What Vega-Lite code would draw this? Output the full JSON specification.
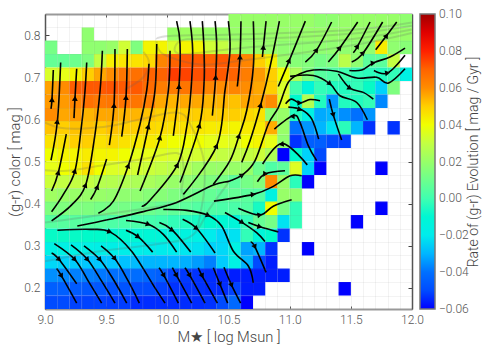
{"$schema":"https://vega.github.io/schema/vega-lite/v6.json","width":367,"height":295,"autosize":"none","padding":{"left":45,"top":14,"right":80,"bottom":42},"background":"white",
"config":{"view":{"stroke":null},"axis":{"labelFont":"Roboto","titleFont":"Roboto","labelFontWeight":300,"titleFontWeight":300,"labelColor":"#555","titleColor":"#444","labelFontSize":12,"titleFontSize":14.7,"grid":false}},
"datasets":{
"cells":[
{"m":10.55,"c":0.834,"v":0.02},{"m":10.65,"c":0.834,"v":0.02},{"m":10.75,"c":0.834,"v":0.02},{"m":10.85,"c":0.834,"v":0.02},{"m":10.95,"c":0.834,"v":0.02},{"m":11.05,"c":0.834,"v":0.02},{"m":11.15,"c":0.834,"v":0.02},{"m":11.25,"c":0.834,"v":0.018},{"m":11.35,"c":0.834,"v":0.018},{"m":11.45,"c":0.834,"v":0.02},{"m":11.55,"c":0.834,"v":0.02},{"m":11.65,"c":0.834,"v":0.02},{"m":11.75,"c":0.834,"v":0.02},{"m":11.85,"c":0.834,"v":0.02},{"m":11.95,"c":0.834,"v":0.018},
{"m":9.35,"c":0.802,"v":0.018},{"m":10.05,"c":0.802,"v":0.02},{"m":10.15,"c":0.802,"v":0.022},{"m":10.25,"c":0.802,"v":0.022},{"m":10.35,"c":0.802,"v":0.02},{"m":10.45,"c":0.802,"v":0.02},{"m":10.55,"c":0.802,"v":0.02},{"m":10.65,"c":0.802,"v":0.02},{"m":10.75,"c":0.802,"v":0.02},{"m":10.85,"c":0.802,"v":0.02},{"m":10.95,"c":0.802,"v":0.02},{"m":11.05,"c":0.802,"v":0.02},{"m":11.15,"c":0.802,"v":0.02},{"m":11.25,"c":0.802,"v":0.02},{"m":11.35,"c":0.802,"v":0.02},{"m":11.45,"c":0.802,"v":0.02},{"m":11.55,"c":0.802,"v":0.02},{"m":11.65,"c":0.802,"v":0.02},{"m":11.75,"c":0.802,"v":0.02},{"m":11.85,"c":0.802,"v":0.02},{"m":11.95,"c":0.802,"v":0.02},
{"m":9.05,"c":0.771,"v":0.012},{"m":9.35,"c":0.771,"v":0.018},{"m":9.45,"c":0.771,"v":0.018},{"m":9.55,"c":0.771,"v":0.02},{"m":9.65,"c":0.771,"v":0.033},{"m":9.75,"c":0.771,"v":0.014},{"m":9.85,"c":0.771,"v":0.042},{"m":9.95,"c":0.771,"v":0.042},{"m":10.05,"c":0.771,"v":0.035},{"m":10.15,"c":0.771,"v":0.042},{"m":10.25,"c":0.771,"v":0.042},{"m":10.35,"c":0.771,"v":0.033},{"m":10.45,"c":0.771,"v":0.03},{"m":10.55,"c":0.771,"v":0.024},{"m":10.65,"c":0.771,"v":0.02},{"m":10.75,"c":0.771,"v":0.02},{"m":10.85,"c":0.771,"v":0.02},{"m":10.95,"c":0.771,"v":0.018},{"m":11.05,"c":0.771,"v":0.018},{"m":11.15,"c":0.771,"v":0.018},{"m":11.25,"c":0.771,"v":0.018},{"m":11.35,"c":0.771,"v":0.018},{"m":11.45,"c":0.771,"v":0.018},{"m":11.55,"c":0.771,"v":0.018},{"m":11.65,"c":0.771,"v":0.018},{"m":11.75,"c":0.771,"v":0.044},{"m":11.85,"c":0.771,"v":0.018},{"m":11.95,"c":0.771,"v":0.016},
{"m":9.05,"c":0.739,"v":0.008},{"m":9.15,"c":0.739,"v":0.008},{"m":9.25,"c":0.739,"v":0.01},{"m":9.35,"c":0.739,"v":0.014},{"m":9.45,"c":0.739,"v":0.03},{"m":9.55,"c":0.739,"v":0.043},{"m":9.65,"c":0.739,"v":0.045},{"m":9.75,"c":0.739,"v":0.046},{"m":9.85,"c":0.739,"v":0.048},{"m":9.95,"c":0.739,"v":0.062},{"m":10.05,"c":0.739,"v":0.07},{"m":10.15,"c":0.739,"v":0.072},{"m":10.25,"c":0.739,"v":0.072},{"m":10.35,"c":0.739,"v":0.07},{"m":10.45,"c":0.739,"v":0.072},{"m":10.55,"c":0.739,"v":0.068},{"m":10.65,"c":0.739,"v":0.062},{"m":10.75,"c":0.739,"v":0.05},{"m":10.85,"c":0.739,"v":0.043},{"m":10.95,"c":0.739,"v":0.02},{"m":11.05,"c":0.739,"v":0.016},{"m":11.15,"c":0.739,"v":0.015},{"m":11.25,"c":0.739,"v":0.012},{"m":11.35,"c":0.739,"v":0.014},{"m":11.45,"c":0.739,"v":0.028},{"m":11.55,"c":0.739,"v":0.018},{"m":11.65,"c":0.739,"v":0.006},{"m":11.75,"c":0.739,"v":0.006},{"m":11.85,"c":0.739,"v":0.03},
{"m":9.05,"c":0.707,"v":0.035},{"m":9.15,"c":0.707,"v":0.038},{"m":9.25,"c":0.707,"v":0.042},{"m":9.35,"c":0.707,"v":0.05},{"m":9.45,"c":0.707,"v":0.056},{"m":9.55,"c":0.707,"v":0.06},{"m":9.65,"c":0.707,"v":0.066},{"m":9.75,"c":0.707,"v":0.067},{"m":9.85,"c":0.707,"v":0.07},{"m":9.95,"c":0.707,"v":0.07},{"m":10.05,"c":0.707,"v":0.077},{"m":10.15,"c":0.707,"v":0.076},{"m":10.25,"c":0.707,"v":0.074},{"m":10.35,"c":0.707,"v":0.074},{"m":10.45,"c":0.707,"v":0.072},{"m":10.55,"c":0.707,"v":0.07},{"m":10.65,"c":0.707,"v":0.064},{"m":10.75,"c":0.707,"v":0.058},{"m":10.85,"c":0.707,"v":0.05},{"m":10.95,"c":0.707,"v":0.04},{"m":11.05,"c":0.707,"v":0.025},{"m":11.15,"c":0.707,"v":0.014},{"m":11.25,"c":0.707,"v":0.005},{"m":11.35,"c":0.707,"v":0.003},{"m":11.45,"c":0.707,"v":0.0},{"m":11.55,"c":0.707,"v":-0.002},{"m":11.65,"c":0.707,"v":-0.003},{"m":11.75,"c":0.707,"v":-0.004},{"m":11.85,"c":0.707,"v":-0.002},{"m":11.95,"c":0.707,"v":-0.016},
{"m":9.05,"c":0.675,"v":0.057},{"m":9.15,"c":0.675,"v":0.06},{"m":9.25,"c":0.675,"v":0.071},{"m":9.35,"c":0.675,"v":0.072},{"m":9.45,"c":0.675,"v":0.072},{"m":9.55,"c":0.675,"v":0.073},{"m":9.65,"c":0.675,"v":0.072},{"m":9.75,"c":0.675,"v":0.072},{"m":9.85,"c":0.675,"v":0.068},{"m":9.95,"c":0.675,"v":0.064},{"m":10.05,"c":0.675,"v":0.064},{"m":10.15,"c":0.675,"v":0.066},{"m":10.25,"c":0.675,"v":0.068},{"m":10.35,"c":0.675,"v":0.062},{"m":10.45,"c":0.675,"v":0.06},{"m":10.55,"c":0.675,"v":0.062},{"m":10.65,"c":0.675,"v":0.06},{"m":10.75,"c":0.675,"v":0.056},{"m":10.85,"c":0.675,"v":0.05},{"m":10.95,"c":0.675,"v":0.035},{"m":11.05,"c":0.675,"v":0.0},{"m":11.15,"c":0.675,"v":-0.012},{"m":11.25,"c":0.675,"v":-0.002},{"m":11.35,"c":0.675,"v":-0.004},{"m":11.45,"c":0.675,"v":-0.004},{"m":11.55,"c":0.675,"v":-0.002},{"m":11.65,"c":0.675,"v":-0.006},{"m":11.75,"c":0.675,"v":-0.025},{"m":11.85,"c":0.675,"v":0.014},
{"m":9.05,"c":0.643,"v":0.058},{"m":9.15,"c":0.643,"v":0.058},{"m":9.25,"c":0.643,"v":0.062},{"m":9.35,"c":0.643,"v":0.067},{"m":9.45,"c":0.643,"v":0.065},{"m":9.55,"c":0.643,"v":0.066},{"m":9.65,"c":0.643,"v":0.066},{"m":9.75,"c":0.643,"v":0.066},{"m":9.85,"c":0.643,"v":0.064},{"m":9.95,"c":0.643,"v":0.056},{"m":10.05,"c":0.643,"v":0.054},{"m":10.15,"c":0.643,"v":0.056},{"m":10.25,"c":0.643,"v":0.056},{"m":10.35,"c":0.643,"v":0.054},{"m":10.45,"c":0.643,"v":0.054},{"m":10.55,"c":0.643,"v":0.052},{"m":10.65,"c":0.643,"v":0.056},{"m":10.75,"c":0.643,"v":0.056},{"m":10.85,"c":0.643,"v":0.06},{"m":10.95,"c":0.643,"v":0.036},{"m":11.05,"c":0.643,"v":-0.008},{"m":11.15,"c":0.643,"v":0.026},{"m":11.25,"c":0.643,"v":-0.004},{"m":11.35,"c":0.643,"v":-0.035},{"m":11.45,"c":0.643,"v":-0.004},{"m":11.55,"c":0.643,"v":-0.004},{"m":11.65,"c":0.643,"v":-0.002},{"m":11.75,"c":0.643,"v":-0.037},
{"m":9.05,"c":0.611,"v":0.06},{"m":9.15,"c":0.611,"v":0.056},{"m":9.25,"c":0.611,"v":0.058},{"m":9.35,"c":0.611,"v":0.054},{"m":9.45,"c":0.611,"v":0.056},{"m":9.55,"c":0.611,"v":0.056},{"m":9.65,"c":0.611,"v":0.054},{"m":9.75,"c":0.611,"v":0.054},{"m":9.85,"c":0.611,"v":0.052},{"m":9.95,"c":0.611,"v":0.05},{"m":10.05,"c":0.611,"v":0.05},{"m":10.15,"c":0.611,"v":0.05},{"m":10.25,"c":0.611,"v":0.05},{"m":10.35,"c":0.611,"v":0.05},{"m":10.45,"c":0.611,"v":0.05},{"m":10.55,"c":0.611,"v":0.05},{"m":10.65,"c":0.611,"v":0.048},{"m":10.75,"c":0.611,"v":0.046},{"m":10.85,"c":0.611,"v":0.018},{"m":10.95,"c":0.611,"v":0.02},{"m":11.05,"c":0.611,"v":-0.004},{"m":11.15,"c":0.611,"v":-0.016},{"m":11.25,"c":0.611,"v":-0.032},{"m":11.35,"c":0.611,"v":-0.03},{"m":11.45,"c":0.611,"v":-0.036},{"m":11.55,"c":0.611,"v":-0.04},{"m":11.65,"c":0.611,"v":-0.035},
{"m":9.05,"c":0.58,"v":0.052},{"m":9.15,"c":0.58,"v":0.05},{"m":9.25,"c":0.58,"v":0.052},{"m":9.35,"c":0.58,"v":0.052},{"m":9.45,"c":0.58,"v":0.05},{"m":9.55,"c":0.58,"v":0.052},{"m":9.65,"c":0.58,"v":0.05},{"m":9.75,"c":0.58,"v":0.05},{"m":9.85,"c":0.58,"v":0.048},{"m":9.95,"c":0.58,"v":0.047},{"m":10.05,"c":0.58,"v":0.046},{"m":10.15,"c":0.58,"v":0.046},{"m":10.25,"c":0.58,"v":0.045},{"m":10.35,"c":0.58,"v":0.044},{"m":10.45,"c":0.58,"v":0.044},{"m":10.55,"c":0.58,"v":0.042},{"m":10.65,"c":0.58,"v":0.044},{"m":10.75,"c":0.58,"v":0.044},{"m":10.85,"c":0.58,"v":0.055},{"m":10.95,"c":0.58,"v":0.02},{"m":11.05,"c":0.58,"v":-0.04},{"m":11.15,"c":0.58,"v":-0.035},{"m":11.25,"c":0.58,"v":-0.03},{"m":11.35,"c":0.58,"v":-0.022},{"m":11.45,"c":0.58,"v":-0.003},{"m":11.55,"c":0.58,"v":-0.03},{"m":11.65,"c":0.58,"v":-0.055},{"m":11.85,"c":0.58,"v":-0.055},
{"m":9.05,"c":0.548,"v":0.046},{"m":9.15,"c":0.548,"v":0.046},{"m":9.25,"c":0.548,"v":0.05},{"m":9.35,"c":0.548,"v":0.05},{"m":9.45,"c":0.548,"v":0.046},{"m":9.55,"c":0.548,"v":0.048},{"m":9.65,"c":0.548,"v":0.046},{"m":9.75,"c":0.548,"v":0.044},{"m":9.85,"c":0.548,"v":0.044},{"m":9.95,"c":0.548,"v":0.042},{"m":10.05,"c":0.548,"v":0.04},{"m":10.15,"c":0.548,"v":0.04},{"m":10.25,"c":0.548,"v":0.04},{"m":10.35,"c":0.548,"v":0.038},{"m":10.45,"c":0.548,"v":0.038},{"m":10.55,"c":0.548,"v":0.036},{"m":10.65,"c":0.548,"v":0.04},{"m":10.75,"c":0.548,"v":0.042},{"m":10.85,"c":0.548,"v":0.038},{"m":10.95,"c":0.548,"v":0.018},{"m":11.05,"c":0.548,"v":-0.055},{"m":11.15,"c":0.548,"v":-0.045},{"m":11.25,"c":0.548,"v":-0.045},{"m":11.35,"c":0.548,"v":-0.05},{"m":11.45,"c":0.548,"v":-0.052},
{"m":9.05,"c":0.516,"v":0.04},{"m":9.15,"c":0.516,"v":0.042},{"m":9.25,"c":0.516,"v":0.042},{"m":9.35,"c":0.516,"v":0.044},{"m":9.45,"c":0.516,"v":0.042},{"m":9.55,"c":0.516,"v":0.042},{"m":9.65,"c":0.516,"v":0.04},{"m":9.75,"c":0.516,"v":0.038},{"m":9.85,"c":0.516,"v":0.038},{"m":9.95,"c":0.516,"v":0.036},{"m":10.05,"c":0.516,"v":0.035},{"m":10.15,"c":0.516,"v":0.034},{"m":10.25,"c":0.516,"v":0.034},{"m":10.35,"c":0.516,"v":0.032},{"m":10.45,"c":0.516,"v":0.03},{"m":10.55,"c":0.516,"v":0.03},{"m":10.65,"c":0.516,"v":0.03},{"m":10.75,"c":0.516,"v":0.032},{"m":10.85,"c":0.516,"v":0.025},{"m":10.95,"c":0.516,"v":-0.06},{"m":11.05,"c":0.516,"v":-0.008},{"m":11.15,"c":0.516,"v":-0.025},{"m":11.25,"c":0.516,"v":-0.05},
{"m":9.05,"c":0.484,"v":0.038},{"m":9.15,"c":0.484,"v":0.04},{"m":9.25,"c":0.484,"v":0.042},{"m":9.35,"c":0.484,"v":0.046},{"m":9.45,"c":0.484,"v":0.04},{"m":9.55,"c":0.484,"v":0.036},{"m":9.65,"c":0.484,"v":0.036},{"m":9.75,"c":0.484,"v":0.034},{"m":9.85,"c":0.484,"v":0.032},{"m":9.95,"c":0.484,"v":0.03},{"m":10.05,"c":0.484,"v":0.028},{"m":10.15,"c":0.484,"v":0.026},{"m":10.25,"c":0.484,"v":0.022},{"m":10.35,"c":0.484,"v":0.02},{"m":10.45,"c":0.484,"v":0.02},{"m":10.55,"c":0.484,"v":0.02},{"m":10.65,"c":0.484,"v":0.02},{"m":10.75,"c":0.484,"v":0.01},{"m":10.85,"c":0.484,"v":0.003},{"m":10.95,"c":0.484,"v":0.006},{"m":11.05,"c":0.484,"v":0.036},{"m":11.15,"c":0.484,"v":-0.025},{"m":11.25,"c":0.484,"v":-0.06},{"m":11.75,"c":0.484,"v":-0.06},
{"m":9.05,"c":0.452,"v":0.032},{"m":9.15,"c":0.452,"v":0.03},{"m":9.25,"c":0.452,"v":0.03},{"m":9.35,"c":0.452,"v":0.03},{"m":9.45,"c":0.452,"v":0.027},{"m":9.55,"c":0.452,"v":0.027},{"m":9.65,"c":0.452,"v":0.026},{"m":9.75,"c":0.452,"v":0.025},{"m":9.85,"c":0.452,"v":0.024},{"m":9.95,"c":0.452,"v":0.022},{"m":10.05,"c":0.452,"v":0.02},{"m":10.15,"c":0.452,"v":0.018},{"m":10.25,"c":0.452,"v":0.016},{"m":10.35,"c":0.452,"v":0.014},{"m":10.45,"c":0.452,"v":0.012},{"m":10.55,"c":0.452,"v":0.006},{"m":10.65,"c":0.452,"v":0.012},{"m":10.75,"c":0.452,"v":0.015},{"m":10.85,"c":0.452,"v":0.06},{"m":10.95,"c":0.452,"v":0.02},{"m":11.05,"c":0.452,"v":-0.003},{"m":11.15,"c":0.452,"v":-0.06},
{"m":9.05,"c":0.42,"v":0.022},{"m":9.15,"c":0.42,"v":0.02},{"m":9.25,"c":0.42,"v":0.02},{"m":9.35,"c":0.42,"v":0.02},{"m":9.45,"c":0.42,"v":0.02},{"m":9.55,"c":0.42,"v":0.019},{"m":9.65,"c":0.42,"v":0.018},{"m":9.75,"c":0.42,"v":0.018},{"m":9.85,"c":0.42,"v":0.016},{"m":9.95,"c":0.42,"v":0.016},{"m":10.05,"c":0.42,"v":0.014},{"m":10.15,"c":0.42,"v":0.012},{"m":10.25,"c":0.42,"v":0.01},{"m":10.35,"c":0.42,"v":0.008},{"m":10.45,"c":0.42,"v":0.006},{"m":10.55,"c":0.42,"v":0.008},{"m":10.65,"c":0.42,"v":0.006},{"m":10.75,"c":0.42,"v":0.004},{"m":10.85,"c":0.42,"v":-0.015},{"m":10.95,"c":0.42,"v":0.02},{"m":11.05,"c":0.42,"v":0.018},
{"m":9.05,"c":0.389,"v":0.014},{"m":9.15,"c":0.389,"v":0.014},{"m":9.25,"c":0.389,"v":0.014},{"m":9.35,"c":0.389,"v":0.014},{"m":9.45,"c":0.389,"v":0.012},{"m":9.55,"c":0.389,"v":0.012},{"m":9.65,"c":0.389,"v":0.012},{"m":9.75,"c":0.389,"v":0.01},{"m":9.85,"c":0.389,"v":0.01},{"m":9.95,"c":0.389,"v":0.008},{"m":10.05,"c":0.389,"v":0.007},{"m":10.15,"c":0.389,"v":0.006},{"m":10.25,"c":0.389,"v":0.004},{"m":10.35,"c":0.389,"v":0.003},{"m":10.45,"c":0.389,"v":0.002},{"m":10.55,"c":0.389,"v":0.002},{"m":10.65,"c":0.389,"v":0.004},{"m":10.75,"c":0.389,"v":-0.005},{"m":10.85,"c":0.389,"v":0.04},{"m":10.95,"c":0.389,"v":0.012},{"m":11.05,"c":0.389,"v":-0.002},{"m":11.75,"c":0.389,"v":-0.06},
{"m":9.05,"c":0.357,"v":0.005},{"m":9.15,"c":0.357,"v":0.005},{"m":9.25,"c":0.357,"v":0.005},{"m":9.35,"c":0.357,"v":0.004},{"m":9.45,"c":0.357,"v":0.004},{"m":9.55,"c":0.357,"v":0.003},{"m":9.65,"c":0.357,"v":0.002},{"m":9.75,"c":0.357,"v":0.002},{"m":9.85,"c":0.357,"v":0.001},{"m":9.95,"c":0.357,"v":0.0},{"m":10.05,"c":0.357,"v":-0.002},{"m":10.15,"c":0.357,"v":-0.004},{"m":10.25,"c":0.357,"v":-0.005},{"m":10.35,"c":0.357,"v":-0.008},{"m":10.45,"c":0.357,"v":-0.01},{"m":10.55,"c":0.357,"v":-0.012},{"m":10.65,"c":0.357,"v":-0.002},{"m":10.75,"c":0.357,"v":0.008},{"m":10.85,"c":0.357,"v":0.012},{"m":10.95,"c":0.357,"v":-0.022},{"m":11.05,"c":0.357,"v":-0.002},{"m":11.55,"c":0.357,"v":-0.06},
{"m":9.05,"c":0.325,"v":-0.006},{"m":9.15,"c":0.325,"v":-0.006},{"m":9.25,"c":0.325,"v":-0.006},{"m":9.35,"c":0.325,"v":-0.007},{"m":9.45,"c":0.325,"v":-0.007},{"m":9.55,"c":0.325,"v":-0.008},{"m":9.65,"c":0.325,"v":-0.009},{"m":9.75,"c":0.325,"v":-0.01},{"m":9.85,"c":0.325,"v":-0.011},{"m":9.95,"c":0.325,"v":-0.012},{"m":10.05,"c":0.325,"v":-0.013},{"m":10.15,"c":0.325,"v":-0.014},{"m":10.25,"c":0.325,"v":-0.016},{"m":10.35,"c":0.325,"v":-0.02},{"m":10.45,"c":0.325,"v":-0.024},{"m":10.55,"c":0.325,"v":-0.022},{"m":10.65,"c":0.325,"v":-0.002},{"m":10.75,"c":0.325,"v":-0.012},{"m":10.85,"c":0.325,"v":-0.008},{"m":10.95,"c":0.325,"v":-0.055},
{"m":9.05,"c":0.293,"v":-0.016},{"m":9.15,"c":0.293,"v":-0.016},{"m":9.25,"c":0.293,"v":-0.016},{"m":9.35,"c":0.293,"v":-0.016},{"m":9.45,"c":0.293,"v":-0.017},{"m":9.55,"c":0.293,"v":-0.017},{"m":9.65,"c":0.293,"v":-0.018},{"m":9.75,"c":0.293,"v":-0.018},{"m":9.85,"c":0.293,"v":-0.019},{"m":9.95,"c":0.293,"v":-0.02},{"m":10.05,"c":0.293,"v":-0.02},{"m":10.15,"c":0.293,"v":-0.021},{"m":10.25,"c":0.293,"v":-0.022},{"m":10.35,"c":0.293,"v":-0.025},{"m":10.45,"c":0.293,"v":-0.024},{"m":10.55,"c":0.293,"v":-0.016},{"m":10.65,"c":0.293,"v":-0.033},{"m":10.75,"c":0.293,"v":-0.03},{"m":10.85,"c":0.293,"v":-0.055},{"m":11.15,"c":0.293,"v":-0.06},
{"m":9.05,"c":0.261,"v":-0.024},{"m":9.15,"c":0.261,"v":-0.025},{"m":9.25,"c":0.261,"v":-0.026},{"m":9.35,"c":0.261,"v":-0.027},{"m":9.45,"c":0.261,"v":-0.027},{"m":9.55,"c":0.261,"v":-0.027},{"m":9.65,"c":0.261,"v":-0.028},{"m":9.75,"c":0.261,"v":-0.029},{"m":9.85,"c":0.261,"v":-0.03},{"m":9.95,"c":0.261,"v":-0.03},{"m":10.05,"c":0.261,"v":-0.03},{"m":10.15,"c":0.261,"v":-0.031},{"m":10.25,"c":0.261,"v":-0.034},{"m":10.35,"c":0.261,"v":-0.038},{"m":10.45,"c":0.261,"v":-0.026},{"m":10.55,"c":0.261,"v":-0.016},{"m":10.65,"c":0.261,"v":-0.03},{"m":10.75,"c":0.261,"v":-0.05},{"m":10.85,"c":0.261,"v":-0.058},
{"m":9.05,"c":0.23,"v":-0.036},{"m":9.15,"c":0.23,"v":-0.037},{"m":9.25,"c":0.23,"v":-0.038},{"m":9.35,"c":0.23,"v":-0.038},{"m":9.45,"c":0.23,"v":-0.039},{"m":9.55,"c":0.23,"v":-0.04},{"m":9.65,"c":0.23,"v":-0.04},{"m":9.75,"c":0.23,"v":-0.041},{"m":9.85,"c":0.23,"v":-0.043},{"m":9.95,"c":0.23,"v":-0.045},{"m":10.05,"c":0.23,"v":-0.052},{"m":10.15,"c":0.23,"v":-0.054},{"m":10.25,"c":0.23,"v":-0.055},{"m":10.35,"c":0.23,"v":-0.056},{"m":10.45,"c":0.23,"v":-0.057},{"m":10.55,"c":0.23,"v":-0.058},{"m":10.65,"c":0.23,"v":-0.058},{"m":10.75,"c":0.23,"v":-0.058},{"m":10.85,"c":0.23,"v":-0.058},{"m":10.95,"c":0.23,"v":-0.058},
{"m":9.05,"c":0.198,"v":-0.045},{"m":9.15,"c":0.198,"v":-0.045},{"m":9.25,"c":0.198,"v":-0.046},{"m":9.35,"c":0.198,"v":-0.047},{"m":9.45,"c":0.198,"v":-0.047},{"m":9.55,"c":0.198,"v":-0.048},{"m":9.65,"c":0.198,"v":-0.048},{"m":9.75,"c":0.198,"v":-0.05},{"m":9.85,"c":0.198,"v":-0.05},{"m":9.95,"c":0.198,"v":-0.052},{"m":10.05,"c":0.198,"v":-0.055},{"m":10.15,"c":0.198,"v":-0.055},{"m":10.25,"c":0.198,"v":-0.055},{"m":10.35,"c":0.198,"v":-0.056},{"m":10.45,"c":0.198,"v":-0.056},{"m":10.55,"c":0.198,"v":-0.052},{"m":10.65,"c":0.198,"v":-0.058},{"m":10.75,"c":0.198,"v":-0.058},{"m":11.45,"c":0.198,"v":-0.06},
{"m":9.05,"c":0.166,"v":-0.05},{"m":9.15,"c":0.166,"v":-0.05},{"m":9.25,"c":0.166,"v":-0.052},{"m":9.35,"c":0.166,"v":-0.052},{"m":9.45,"c":0.166,"v":-0.052},{"m":9.55,"c":0.166,"v":-0.053},{"m":9.65,"c":0.166,"v":-0.053},{"m":9.75,"c":0.166,"v":-0.056},{"m":9.85,"c":0.166,"v":-0.056},{"m":9.95,"c":0.166,"v":-0.056},{"m":10.05,"c":0.166,"v":-0.056},{"m":10.15,"c":0.166,"v":-0.056},{"m":10.25,"c":0.166,"v":-0.056},{"m":10.35,"c":0.166,"v":-0.055},{"m":10.45,"c":0.166,"v":-0.05},{"m":10.55,"c":0.166,"v":-0.042},{"m":10.65,"c":0.166,"v":-0.06}
],
"contours":[
{"s":1,"o":0,"x":9.0,"y":0.592},{"s":1,"o":1,"x":9.123,"y":0.58},{"s":1,"o":2,"x":9.286,"y":0.578},{"s":1,"o":3,"x":9.531,"y":0.584},{"s":1,"o":4,"x":9.777,"y":0.6},{"s":1,"o":5,"x":10.076,"y":0.616},{"s":1,"o":6,"x":10.185,"y":0.589},{"s":1,"o":7,"x":10.294,"y":0.509},{"s":1,"o":8,"x":10.3,"y":0.43},{"s":1,"o":9,"x":10.24,"y":0.335},
{"s":2,"o":0,"x":9.0,"y":0.479},{"s":2,"o":1,"x":9.177,"y":0.478},{"s":2,"o":2,"x":9.45,"y":0.49},{"s":2,"o":3,"x":9.804,"y":0.506},{"s":2,"o":4,"x":10.076,"y":0.52},{"s":2,"o":5,"x":10.131,"y":0.49},{"s":2,"o":6,"x":10.117,"y":0.435},{"s":2,"o":7,"x":10.076,"y":0.402},{"s":2,"o":8,"x":9.45,"y":0.373},{"s":2,"o":9,"x":9.0,"y":0.355},
{"s":3,"o":0,"x":9.0,"y":0.263},{"s":3,"o":1,"x":9.45,"y":0.287},{"s":3,"o":2,"x":9.995,"y":0.307},{"s":3,"o":3,"x":10.213,"y":0.327},{"s":3,"o":4,"x":10.35,"y":0.39},{"s":3,"o":5,"x":10.5,"y":0.45},
{"s":4,"o":0,"x":9.913,"y":0.79},{"s":4,"o":1,"x":10.022,"y":0.798},{"s":4,"o":2,"x":10.63,"y":0.802},{"s":4,"o":3,"x":11.5,"y":0.812},{"s":4,"o":4,"x":12.0,"y":0.83},
{"s":5,"o":0,"x":10.063,"y":0.77},{"s":5,"o":1,"x":10.158,"y":0.79},{"s":5,"o":2,"x":10.63,"y":0.79},{"s":5,"o":3,"x":11.5,"y":0.803},{"s":5,"o":4,"x":12.0,"y":0.822},
{"s":6,"o":0,"x":10.063,"y":0.77},{"s":6,"o":1,"x":10.131,"y":0.755},{"s":6,"o":2,"x":10.63,"y":0.77},{"s":6,"o":3,"x":11.5,"y":0.79},{"s":6,"o":4,"x":12.0,"y":0.813},
{"s":7,"o":0,"x":9.913,"y":0.785},{"s":7,"o":1,"x":9.967,"y":0.755},{"s":7,"o":2,"x":10.267,"y":0.73},{"s":7,"o":3,"x":10.63,"y":0.74},{"s":7,"o":4,"x":11.5,"y":0.775},{"s":7,"o":5,"x":12.0,"y":0.805},
{"s":8,"o":0,"x":9.65,"y":0.67},{"s":8,"o":1,"x":9.804,"y":0.7},{"s":8,"o":2,"x":9.85,"y":0.735},{"s":8,"o":3,"x":9.804,"y":0.76}
],
"streams":[
{"s":1,"o":0,"x":9.049,"y":0.625},{"s":1,"o":1,"x":9.057,"y":0.647},{"s":1,"o":2,"x":9.068,"y":0.717},
{"s":2,"o":0,"x":9.049,"y":0.503},{"s":2,"o":1,"x":9.101,"y":0.595},{"s":2,"o":2,"x":9.128,"y":0.735},
{"s":3,"o":0,"x":9.237,"y":0.603},{"s":3,"o":1,"x":9.245,"y":0.65},{"s":3,"o":2,"x":9.259,"y":0.72},
{"s":4,"o":0,"x":9.054,"y":0.43},{"s":4,"o":1,"x":9.109,"y":0.474},{"s":4,"o":2,"x":9.174,"y":0.565},
{"s":5,"o":0,"x":9.054,"y":0.381},{"s":5,"o":1,"x":9.15,"y":0.422},{"s":5,"o":2,"x":9.245,"y":0.478},{"s":5,"o":3,"x":9.3,"y":0.589},{"s":5,"o":4,"x":9.327,"y":0.668},{"s":5,"o":5,"x":9.341,"y":0.735},
{"s":6,"o":0,"x":9.054,"y":0.359},{"s":6,"o":1,"x":9.218,"y":0.397},{"s":6,"o":2,"x":9.332,"y":0.444},{"s":6,"o":3,"x":9.401,"y":0.549},{"s":6,"o":4,"x":9.45,"y":0.668},{"s":6,"o":5,"x":9.469,"y":0.763},
{"s":7,"o":0,"x":9.373,"y":0.41},{"s":7,"o":1,"x":9.428,"y":0.44},{"s":7,"o":2,"x":9.504,"y":0.506},
{"s":8,"o":0,"x":9.526,"y":0.539},{"s":8,"o":1,"x":9.564,"y":0.633},{"s":8,"o":2,"x":9.572,"y":0.767},
{"s":9,"o":0,"x":9.627,"y":0.559},{"s":9,"o":1,"x":9.662,"y":0.652},{"s":9,"o":2,"x":9.673,"y":0.767},
{"s":10,"o":0,"x":9.436,"y":0.377},{"s":10,"o":1,"x":9.559,"y":0.406},{"s":10,"o":2,"x":9.681,"y":0.49},{"s":10,"o":3,"x":9.777,"y":0.589},{"s":10,"o":4,"x":9.831,"y":0.668},{"s":10,"o":5,"x":9.85,"y":0.732},
{"s":11,"o":0,"x":9.757,"y":0.468},{"s":11,"o":1,"x":9.845,"y":0.583},{"s":11,"o":2,"x":9.899,"y":0.668},{"s":11,"o":3,"x":9.913,"y":0.779},
{"s":12,"o":0,"x":9.777,"y":0.43},{"s":12,"o":1,"x":9.94,"y":0.557},{"s":12,"o":2,"x":10.008,"y":0.668},{"s":12,"o":3,"x":10.022,"y":0.763},
{"s":13,"o":0,"x":10.049,"y":0.561},{"s":13,"o":1,"x":10.095,"y":0.678},{"s":13,"o":2,"x":10.104,"y":0.779},{"s":13,"o":3,"x":10.076,"y":0.833},
{"s":14,"o":0,"x":9.79,"y":0.394},{"s":14,"o":1,"x":9.858,"y":0.408},{"s":14,"o":2,"x":10.082,"y":0.492},{"s":14,"o":3,"x":10.158,"y":0.581},{"s":14,"o":4,"x":10.193,"y":0.668},{"s":14,"o":5,"x":10.207,"y":0.763},{"s":14,"o":6,"x":10.185,"y":0.833},
{"s":15,"o":0,"x":10.104,"y":0.45},{"s":15,"o":1,"x":10.262,"y":0.585},{"s":15,"o":2,"x":10.3,"y":0.684},{"s":15,"o":3,"x":10.3,"y":0.763},{"s":15,"o":4,"x":10.286,"y":0.833},
{"s":16,"o":0,"x":10.368,"y":0.609},{"s":16,"o":1,"x":10.395,"y":0.7},{"s":16,"o":2,"x":10.403,"y":0.779},{"s":16,"o":3,"x":10.39,"y":0.833},
{"s":17,"o":0,"x":10.131,"y":0.422},{"s":17,"o":1,"x":10.403,"y":0.537},{"s":17,"o":2,"x":10.471,"y":0.668},{"s":17,"o":3,"x":10.512,"y":0.763},{"s":17,"o":4,"x":10.499,"y":0.833},
{"s":18,"o":0,"x":10.572,"y":0.678},{"s":18,"o":1,"x":10.594,"y":0.748},{"s":18,"o":2,"x":10.602,"y":0.833},
{"s":19,"o":0,"x":10.376,"y":0.446},{"s":19,"o":1,"x":10.512,"y":0.502},{"s":19,"o":2,"x":10.586,"y":0.561},{"s":19,"o":3,"x":10.649,"y":0.621},{"s":19,"o":4,"x":10.703,"y":0.724},{"s":19,"o":5,"x":10.703,"y":0.833},
{"s":20,"o":0,"x":10.777,"y":0.748},{"s":20,"o":1,"x":10.785,"y":0.771},{"s":20,"o":2,"x":10.807,"y":0.833},
{"s":21,"o":0,"x":10.608,"y":0.498},{"s":21,"o":1,"x":10.676,"y":0.549},{"s":21,"o":2,"x":10.763,"y":0.634},{"s":21,"o":3,"x":10.839,"y":0.724},{"s":21,"o":4,"x":10.916,"y":0.833},
{"s":22,"o":0,"x":9.264,"y":0.347},{"s":22,"o":1,"x":9.531,"y":0.363},{"s":22,"o":2,"x":9.804,"y":0.381},{"s":22,"o":3,"x":10.076,"y":0.403},{"s":22,"o":4,"x":10.376,"y":0.444},{"s":22,"o":5,"x":10.512,"y":0.454},{"s":22,"o":6,"x":10.613,"y":0.468},{"s":22,"o":7,"x":10.717,"y":0.502},{"s":22,"o":8,"x":10.826,"y":0.589},{"s":22,"o":9,"x":10.907,"y":0.628},{"s":22,"o":10,"x":10.989,"y":0.688},{"s":22,"o":11,"x":11.084,"y":0.708},{"s":22,"o":12,"x":11.193,"y":0.717},{"s":22,"o":13,"x":11.384,"y":0.714},{"s":22,"o":14,"x":11.548,"y":0.698},{"s":22,"o":15,"x":11.711,"y":0.7},{"s":22,"o":16,"x":11.807,"y":0.686},{"s":22,"o":17,"x":11.943,"y":0.72},
{"s":23,"o":0,"x":10.381,"y":0.406},{"s":23,"o":1,"x":10.703,"y":0.422},{"s":23,"o":2,"x":10.866,"y":0.441},{"s":23,"o":3,"x":11.003,"y":0.466},{"s":23,"o":4,"x":11.098,"y":0.466},
{"s":24,"o":0,"x":10.907,"y":0.678},{"s":24,"o":1,"x":10.997,"y":0.74},{"s":24,"o":2,"x":11.128,"y":0.833},
{"s":25,"o":0,"x":11.128,"y":0.736},{"s":25,"o":1,"x":11.221,"y":0.765},{"s":25,"o":2,"x":11.343,"y":0.831},
{"s":26,"o":0,"x":11.316,"y":0.736},{"s":26,"o":1,"x":11.411,"y":0.77},{"s":26,"o":2,"x":11.556,"y":0.831},
{"s":27,"o":0,"x":11.52,"y":0.758},{"s":27,"o":1,"x":11.556,"y":0.774},{"s":27,"o":2,"x":11.657,"y":0.831},
{"s":28,"o":0,"x":11.507,"y":0.736},{"s":28,"o":1,"x":11.602,"y":0.758},{"s":28,"o":2,"x":11.76,"y":0.831},
{"s":29,"o":0,"x":11.488,"y":0.716},{"s":29,"o":1,"x":11.589,"y":0.717},{"s":29,"o":2,"x":11.684,"y":0.734},{"s":29,"o":3,"x":11.82,"y":0.748},{"s":29,"o":4,"x":11.943,"y":0.769},
{"s":30,"o":0,"x":11.703,"y":0.765},{"s":30,"o":1,"x":11.793,"y":0.799},{"s":30,"o":2,"x":11.875,"y":0.831},
{"s":31,"o":0,"x":11.689,"y":0.716},{"s":31,"o":1,"x":11.801,"y":0.71},{"s":31,"o":2,"x":11.943,"y":0.752},
{"s":32,"o":0,"x":11.003,"y":0.702},{"s":32,"o":1,"x":11.193,"y":0.704},{"s":32,"o":2,"x":11.33,"y":0.684},{"s":32,"o":3,"x":11.411,"y":0.656},{"s":32,"o":4,"x":11.548,"y":0.64},{"s":32,"o":5,"x":11.635,"y":0.599},
{"s":33,"o":0,"x":11.398,"y":0.708},{"s":33,"o":1,"x":11.493,"y":0.674},{"s":33,"o":2,"x":11.602,"y":0.664},{"s":33,"o":3,"x":11.684,"y":0.648},
{"s":34,"o":0,"x":10.967,"y":0.637},{"s":34,"o":1,"x":11.016,"y":0.648},{"s":34,"o":2,"x":11.084,"y":0.639},{"s":34,"o":3,"x":11.166,"y":0.647},{"s":34,"o":4,"x":11.248,"y":0.644},
{"s":35,"o":0,"x":10.989,"y":0.629},{"s":35,"o":1,"x":11.098,"y":0.623},{"s":35,"o":2,"x":11.18,"y":0.601},{"s":35,"o":3,"x":11.237,"y":0.553},
{"s":36,"o":0,"x":10.875,"y":0.577},{"s":36,"o":1,"x":11.03,"y":0.609},{"s":36,"o":2,"x":11.084,"y":0.593},{"s":36,"o":3,"x":11.153,"y":0.537},{"s":36,"o":4,"x":11.221,"y":0.502},
{"s":37,"o":0,"x":11.324,"y":0.648},{"s":37,"o":1,"x":11.357,"y":0.61},{"s":37,"o":2,"x":11.425,"y":0.551},
{"s":38,"o":0,"x":10.779,"y":0.494},{"s":38,"o":1,"x":10.94,"y":0.543},{"s":38,"o":2,"x":11.144,"y":0.492},
{"s":39,"o":0,"x":10.736,"y":0.452},{"s":39,"o":1,"x":10.804,"y":0.471},{"s":39,"o":2,"x":10.962,"y":0.478},
{"s":40,"o":0,"x":10.58,"y":0.389},{"s":40,"o":1,"x":10.757,"y":0.373},{"s":40,"o":2,"x":10.866,"y":0.394},{"s":40,"o":3,"x":11.016,"y":0.409},
{"s":41,"o":0,"x":10.471,"y":0.379},{"s":41,"o":1,"x":10.613,"y":0.355},{"s":41,"o":2,"x":10.73,"y":0.331},{"s":41,"o":3,"x":10.798,"y":0.31},
{"s":42,"o":0,"x":10.662,"y":0.355},{"s":42,"o":1,"x":10.757,"y":0.345},{"s":42,"o":2,"x":10.907,"y":0.333},
{"s":43,"o":0,"x":9.967,"y":0.386},{"s":43,"o":1,"x":10.158,"y":0.384},{"s":43,"o":2,"x":10.335,"y":0.372},{"s":43,"o":3,"x":10.444,"y":0.347},{"s":43,"o":4,"x":10.54,"y":0.287},{"s":43,"o":5,"x":10.662,"y":0.252},{"s":43,"o":6,"x":10.703,"y":0.212},
{"s":44,"o":0,"x":10.681,"y":0.309},{"s":44,"o":1,"x":10.717,"y":0.297},{"s":44,"o":2,"x":10.807,"y":0.237},
{"s":45,"o":0,"x":10.376,"y":0.248},{"s":45,"o":1,"x":10.431,"y":0.208},{"s":45,"o":2,"x":10.493,"y":0.164},
{"s":46,"o":0,"x":10.463,"y":0.249},{"s":46,"o":1,"x":10.526,"y":0.206},{"s":46,"o":2,"x":10.599,"y":0.164},
{"s":47,"o":0,"x":10.253,"y":0.248},{"s":47,"o":1,"x":10.286,"y":0.228},{"s":47,"o":2,"x":10.409,"y":0.164},
{"s":48,"o":0,"x":10.144,"y":0.248},{"s":48,"o":1,"x":10.185,"y":0.229},{"s":48,"o":2,"x":10.308,"y":0.164},
{"s":49,"o":0,"x":10.041,"y":0.248},{"s":49,"o":1,"x":10.076,"y":0.229},{"s":49,"o":2,"x":10.199,"y":0.164},
{"s":50,"o":0,"x":9.932,"y":0.248},{"s":50,"o":1,"x":9.973,"y":0.229},{"s":50,"o":2,"x":10.09,"y":0.164},
{"s":51,"o":0,"x":9.101,"y":0.337},{"s":51,"o":1,"x":9.368,"y":0.339},{"s":51,"o":2,"x":9.531,"y":0.333},{"s":51,"o":3,"x":9.708,"y":0.287},{"s":51,"o":4,"x":9.899,"y":0.2},{"s":51,"o":5,"x":9.981,"y":0.164},
{"s":52,"o":0,"x":9.662,"y":0.337},{"s":52,"o":1,"x":9.763,"y":0.321},{"s":52,"o":2,"x":9.88,"y":0.285},
{"s":53,"o":0,"x":9.662,"y":0.36},{"s":53,"o":1,"x":9.845,"y":0.351},{"s":53,"o":2,"x":9.967,"y":0.327},{"s":53,"o":3,"x":10.076,"y":0.285},
{"s":54,"o":0,"x":9.935,"y":0.355},{"s":54,"o":1,"x":10.041,"y":0.337},{"s":54,"o":2,"x":10.191,"y":0.285},
{"s":55,"o":0,"x":10.125,"y":0.363},{"s":55,"o":1,"x":10.24,"y":0.341},{"s":55,"o":2,"x":10.39,"y":0.283},
{"s":56,"o":0,"x":9.076,"y":0.305},{"s":56,"o":1,"x":9.245,"y":0.267},{"s":56,"o":2,"x":9.354,"y":0.216},{"s":56,"o":3,"x":9.463,"y":0.164},
{"s":57,"o":0,"x":9.213,"y":0.302},{"s":57,"o":1,"x":9.349,"y":0.267},{"s":57,"o":2,"x":9.463,"y":0.216},{"s":57,"o":3,"x":9.572,"y":0.164},
{"s":58,"o":0,"x":9.319,"y":0.3},{"s":58,"o":1,"x":9.45,"y":0.267},{"s":58,"o":2,"x":9.559,"y":0.22},{"s":58,"o":3,"x":9.668,"y":0.164},
{"s":59,"o":0,"x":9.458,"y":0.3},{"s":59,"o":1,"x":9.572,"y":0.269},{"s":59,"o":2,"x":9.681,"y":0.216},{"s":59,"o":3,"x":9.771,"y":0.164},
{"s":60,"o":0,"x":9.054,"y":0.283},{"s":60,"o":1,"x":9.117,"y":0.267},{"s":60,"o":2,"x":9.259,"y":0.21},
{"s":61,"o":0,"x":9.095,"y":0.246},{"s":61,"o":1,"x":9.136,"y":0.228},{"s":61,"o":2,"x":9.259,"y":0.164}
],
"arrows":[
{"x":9.057,"y":0.647,"a":3},{"x":9.101,"y":0.595,"a":10},{"x":9.245,"y":0.65,"a":3},{"x":9.109,"y":0.474,"a":15},{"x":9.245,"y":0.478,"a":20},{"x":9.332,"y":0.444,"a":25},{"x":9.428,"y":0.44,"a":20},{"x":9.564,"y":0.633,"a":3},{"x":9.662,"y":0.652,"a":3},{"x":9.681,"y":0.49,"a":20},{"x":9.845,"y":0.583,"a":15},{"x":9.94,"y":0.557,"a":15},{"x":10.082,"y":0.492,"a":25},{"x":10.095,"y":0.678,"a":0},{"x":10.262,"y":0.585,"a":15},{"x":10.403,"y":0.537,"a":25},{"x":10.395,"y":0.7,"a":2},{"x":10.586,"y":0.561,"a":18},{"x":10.594,"y":0.748,"a":2},{"x":10.785,"y":0.771,"a":5},{"x":10.763,"y":0.634,"a":15},{"x":10.613,"y":0.468,"a":60},{"x":10.997,"y":0.74,"a":25},{"x":11.221,"y":0.765,"a":35},{"x":11.411,"y":0.77,"a":40},{"x":11.556,"y":0.774,"a":35},{"x":11.602,"y":0.758,"a":45},{"x":11.793,"y":0.799,"a":35},{"x":11.684,"y":0.734,"a":80},{"x":11.801,"y":0.71,"a":80},
{"x":9.531,"y":0.333,"a":110},{"x":9.763,"y":0.321,"a":125},{"x":9.845,"y":0.351,"a":110},{"x":10.041,"y":0.337,"a":120},{"x":10.24,"y":0.341,"a":125},{"x":10.335,"y":0.372,"a":110},{"x":10.613,"y":0.355,"a":125},{"x":10.757,"y":0.345,"a":105},{"x":10.757,"y":0.373,"a":80},{"x":10.703,"y":0.422,"a":85},{"x":10.804,"y":0.471,"a":90},{"x":10.94,"y":0.543,"a":20},{"x":11.03,"y":0.609,"a":30},{"x":11.084,"y":0.623,"a":110},{"x":11.357,"y":0.61,"a":165},{"x":11.33,"y":0.684,"a":130},{"x":11.493,"y":0.674,"a":120},{"x":11.084,"y":0.639,"a":90},{"x":10.717,"y":0.297,"a":155},{"x":10.431,"y":0.208,"a":160},{"x":10.526,"y":0.206,"a":160},{"x":10.286,"y":0.228,"a":155},{"x":10.185,"y":0.229,"a":150},{"x":10.076,"y":0.229,"a":150},{"x":9.973,"y":0.229,"a":150},{"x":9.245,"y":0.267,"a":135},{"x":9.349,"y":0.267,"a":140},{"x":9.45,"y":0.267,"a":140},{"x":9.572,"y":0.269,"a":140},{"x":9.117,"y":0.267,"a":130},{"x":9.136,"y":0.228,"a":150}
]
},
"resolve":{"axis":{"x":"independent","y":"independent"}},
"layer":[
{"data":{"name":"cells"},"mark":{"type":"rect","width":12.3,"height":13.5,"clip":true},
"encoding":{
"x":{"field":"m","type":"quantitative","scale":{"domain":[9,12],"nice":false,"zero":false},"axis":{"title":"M★ [ log Msun ]","values":[9,9.5,10,10.5,11,11.5,12],"format":".1f","tickSize":-3,"labelPadding":8,"titlePadding":4,"domainColor":"#999","domainWidth":2,"tickColor":"#555","labelFlush":false}},
"y":{"field":"c","type":"quantitative","scale":{"domain":[0.15,0.85],"nice":false,"zero":false},"axis":{"title":"(g-r) color [ mag ]","values":[0.2,0.3,0.4,0.5,0.6,0.7,0.8],"format":".1f","tickSize":-4,"labelPadding":9,"titlePadding":1,"domainColor":"#555","domainWidth":1.5,"tickColor":"#444"}},
"color":{"field":"v","type":"quantitative","scale":{"domain":[-0.06,-0.04,-0.02,0,0.02,0.04,0.05,0.06,0.08,0.09,0.1],"range":["#0000ff","#0070ff","#00ecec","#40ffb0","#98ff68","#f0ff00","#ffcf00","#ff8c00","#ff2000","#e00000","#a00000"]},
"legend":{"orient":"none","legendX":375,"legendY":0,"direction":"vertical","gradientLength":295,"gradientThickness":15,"gradientStrokeColor":"#777","gradientStrokeWidth":1.5,"values":[-0.06,-0.04,-0.02,0,0.02,0.04,0.06,0.08,0.1],"format":".2f","labelFont":"Roboto","labelFontWeight":300,"labelFontSize":12,"labelColor":"#555","labelOffset":4,"title":"Rate of (g-r) Evolution [ mag / Gyr ]","titleOrient":"right","titleLimit":320,"titleFont":"Roboto","titleFontWeight":300,"titleFontSize":14,"titleColor":"#444","encode":{"title":{"update":{"angle":{"value":-90},"dx":{"value":0},"dy":{"value":7}}},"labels":{"update":{"baseline":{"value":"middle"}}}}}}}},
{"data":{"name":"contours"},"mark":{"type":"line","interpolate":"cardinal","stroke":"#666","strokeWidth":2,"opacity":0.22,"clip":true},
"encoding":{"x":{"field":"x","type":"quantitative","axis":{"orient":"top","title":null,"labels":false,"values":[9,9.5,10,10.5,11,11.5,12],"tickSize":-3,"domainColor":"#999","domainWidth":2,"tickColor":"#555"}},
"y":{"field":"y","type":"quantitative","axis":{"orient":"right","title":null,"labels":false,"values":[0.2,0.3,0.4,0.5,0.6,0.7,0.8],"tickSize":-4,"domainColor":"#555","domainWidth":1.5,"tickColor":"#444"}},"detail":{"field":"s"},"order":{"field":"o"}}},
{"data":{"name":"streams"},"mark":{"type":"line","interpolate":"cardinal","stroke":"#000","strokeWidth":1.6,"clip":true},
"encoding":{"x":{"field":"x","type":"quantitative","axis":{"title":null,"labels":false,"ticks":false,"domain":false,"grid":true,"gridColor":"#777","gridOpacity":0.09,"zindex":1,"values":[9.1,9.2,9.3,9.4,9.5,9.6,9.7,9.8,9.9,10,10.1,10.2,10.3,10.4,10.5,10.6,10.7,10.8,10.9,11,11.1,11.2,11.3,11.4,11.5,11.6,11.7,11.8,11.9]}},
"y":{"field":"y","type":"quantitative","axis":{"title":null,"labels":false,"ticks":false,"domain":false,"grid":true,"gridColor":"#777","gridOpacity":0.09,"zindex":1,"values":[0.182,0.214,0.245,0.277,0.309,0.341,0.373,0.405,0.436,0.468,0.5,0.532,0.564,0.595,0.627,0.659,0.691,0.723,0.755,0.786,0.818]}},"detail":{"field":"s"},"order":{"field":"o"}}},
{"data":{"name":"arrows"},"mark":{"type":"point","shape":"triangle-up","filled":true,"fill":"#000","opacity":1,"size":34},
"encoding":{"x":{"field":"x","type":"quantitative","axis":null},"y":{"field":"y","type":"quantitative","axis":null},"angle":{"field":"a","type":"quantitative","scale":null}}}
]}
